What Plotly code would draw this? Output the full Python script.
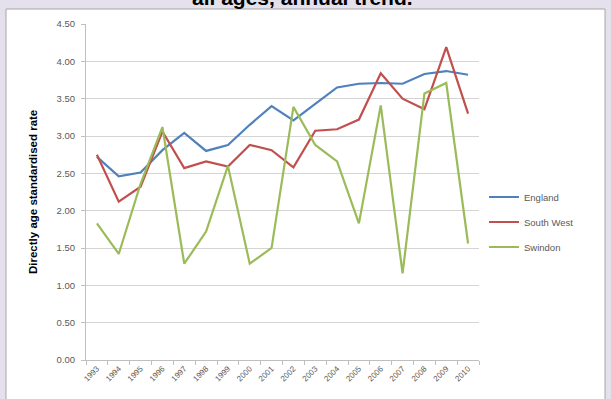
import plotly.graph_objects as go

# Annual directly age standardised rates, 1993-2010
years = [str(y) for y in range(1993, 2011)]
england = [2.72, 2.46, 2.51, 2.81, 3.04, 2.80, 2.88, 3.15, 3.40, 3.21,
           3.43, 3.65, 3.70, 3.71, 3.70, 3.83, 3.87, 3.82]
south_west = [2.75, 2.12, 2.32, 3.06, 2.57, 2.66, 2.59, 2.88, 2.81, 2.58,
              3.07, 3.09, 3.22, 3.84, 3.50, 3.36, 4.19, 3.30]
swindon = [1.83, 1.42, 2.36, 3.12, 1.29, 1.72, 2.60, 1.29, 1.50, 3.39,
           2.88, 2.66, 1.83, 3.41, 1.16, 3.57, 3.71, 1.56]
y_ticks = [0, 0.5, 1, 1.5, 2, 2.5, 3, 3.5, 4, 4.5]

series = [
    ("England", england, "#4F81BD"),
    ("South West", south_west, "#C0504D"),
    ("Swindon", swindon, "#9BBB59"),
]

W, H = 611, 399
L, R, T, B = 86, 132, 24, 39
pw, ph = W - L - R, H - T - B


def px_x(x):
    return (x - L) / pw


def px_y(y):
    return (H - B - y) / ph


fig = go.Figure()
for i, (name, vals, col) in enumerate(series):
    fig.add_trace(go.Scatter(
        x=years, y=vals, name=name, mode="lines",
        line=dict(color=col, width=2.2),
        legendgroup=name,
    ))

grey = "#595959"
fig.update_layout(
    width=W, height=H,
    margin=dict(l=L, r=R, t=T, b=B),
    paper_bgcolor="#e4e0ec",
    plot_bgcolor="rgba(0,0,0,0)",
    font=dict(family="Liberation Sans, Arial, sans-serif", size=9, color=grey),
    showlegend=True,
    legend=dict(
        x=px_x(484), xanchor="left",
        y=px_y(222), yanchor="middle",
        bgcolor="rgba(0,0,0,0)",
        font=dict(size=9.5, color=grey),
        tracegroupgap=6,
    ),
    xaxis=dict(
        type="category",
        range=[-0.5, len(years) - 0.5],
        showgrid=False,
        showline=True, linecolor="#bfbfbf", linewidth=1,
        ticks="outside", ticklen=4, tickcolor="#bfbfbf",
        tickson="boundaries",
        tickangle=-45,
        tickfont=dict(size=8, color=grey),
        zeroline=False,
    ),
    yaxis=dict(
        range=[0, 4.5],
        tickvals=y_ticks,
        tickformat=".2f",
        showgrid=True, gridcolor="#d4d4d4", gridwidth=1,
        showline=True, linecolor="#bfbfbf", linewidth=1,
        ticks="outside", ticklen=4, tickcolor="#bfbfbf",
        tickfont=dict(size=9.5, color=grey),
        zeroline=False,
        ticklabelstandoff=4,
    ),
    shapes=[
        dict(
            type="rect", xref="paper", yref="paper", layer="below",
            x0=px_x(6), x1=px_x(605), y0=px_y(402), y1=px_y(9),
            fillcolor="white", line=dict(color="#a6a6a6", width=1),
        )
    ],
    annotations=[
        dict(
            text="<b>all ages, annual trend.</b>",
            xref="paper", yref="paper",
            x=px_x(302), y=px_y(-3), xanchor="center", yanchor="middle",
            showarrow=False,
            font=dict(family="Liberation Sans, Arial, sans-serif", size=21, color="black"),
        ),
        dict(
            text="<b>Directly age standardised rate</b>",
            xref="paper", yref="paper",
            x=px_x(33), y=0.5, xanchor="center", yanchor="middle",
            textangle=-90, showarrow=False,
            font=dict(family="Liberation Sans, Arial, sans-serif", size=11.5, color="black"),
        ),
    ],
)

fig.write_html("out.html")
